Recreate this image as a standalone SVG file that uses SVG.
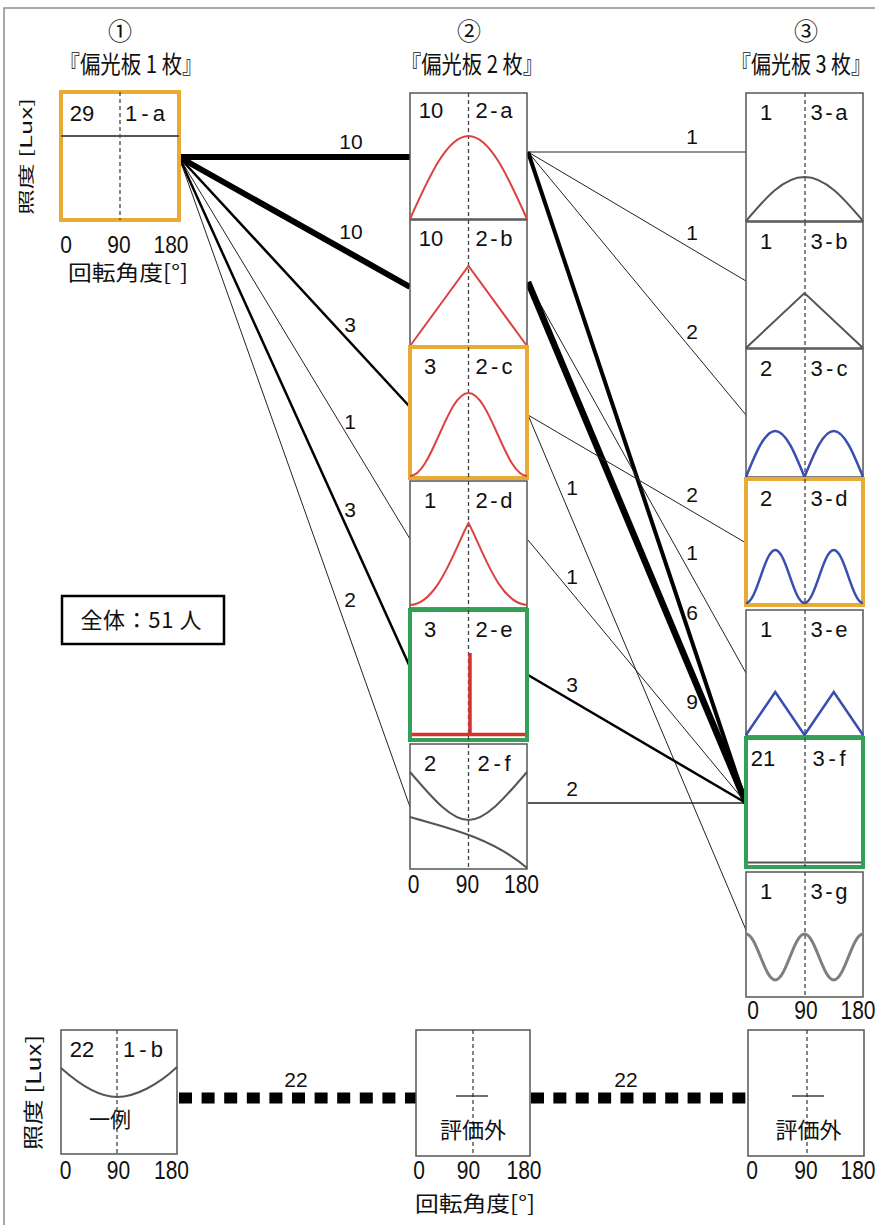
<svg xmlns="http://www.w3.org/2000/svg" width="875" height="1225" viewBox="0 0 875 1225">
<style>
  .frame { fill: none; stroke: #8a8a8a; stroke-width: 1.5; }
  .box { fill: #fff; stroke: #555; stroke-width: 1.5; }
  .box-o { fill: #fff; stroke: #E8AB35; stroke-width: 4; }
  .box-g { fill: #fff; stroke: #33A058; stroke-width: 4; }
  .box-k { fill: #fff; stroke: #000; stroke-width: 2.5; }
  .mid { fill: none; stroke: #444; stroke-width: 1.3; stroke-dasharray: 4 3; }
  .cr { fill: none; stroke: #DB4340; stroke-width: 2; }
  .cr3 { fill: none; stroke: #D9302C; stroke-width: 3.5; }
  .cb { fill: none; stroke: #3A4DB0; stroke-width: 2.5; }
  .ck { fill: none; stroke: #555; stroke-width: 2; }
  .cg { fill: none; stroke: #7f7f7f; stroke-width: 3; }
  .tick { fill: none; stroke: #222; stroke-width: 1.3; }
  text { font-family: "Liberation Sans", "Noto Sans CJK JP", sans-serif; fill: #111; }
  .jp { font-family: "Noto Sans CJK JP", sans-serif; }
  .num { font-size: 22px; text-anchor: middle; }
  .ax { font-size: 21px; text-anchor: middle; }
  .lbl { font-size: 21px; text-anchor: middle; }
  .ttl { font-size: 21px; text-anchor: middle; }
  .circ { font-size: 24px; text-anchor: middle; }
  .c1 { stroke: #222; stroke-width: 1; fill: none; }
  .c2 { stroke: #222; stroke-width: 1.3; fill: none; }
  .c3 { stroke: #000; stroke-width: 2.5; fill: none; }
  .c6 { stroke: #000; stroke-width: 4; fill: none; }
  .c9 { stroke: #000; stroke-width: 6.5; fill: none; }
  .c10 { stroke: #000; stroke-width: 6; fill: none; }
  .dots { stroke: #000; stroke-width: 11; fill: none; }
</style>

<!-- outer frame (right and bottom edges run past the canvas) -->
<rect class="frame" x="4" y="8" width="900" height="1240"/>

<!-- column headings -->
<g id="headings">
  <text class="jp circ" x="120" y="40">①</text>
  <text class="jp ttl" textLength="143" lengthAdjust="spacingAndGlyphs" transform="translate(131 73) scale(1 1.15)">『偏光板 1 枚』</text>
  <text class="jp circ" x="469" y="40">②</text>
  <text class="jp ttl" textLength="142" lengthAdjust="spacingAndGlyphs" transform="translate(472 73) scale(1 1.15)">『偏光板 2 枚』</text>
  <text class="jp circ" x="806" y="40">③</text>
  <text class="jp ttl" textLength="140" lengthAdjust="spacingAndGlyphs" transform="translate(801 73) scale(1 1.15)">『偏光板 3 枚』</text>
</g>

<!-- axis captions -->
<g id="axes">
  <text class="jp" font-size="16" text-anchor="middle" textLength="117" lengthAdjust="spacingAndGlyphs" transform="translate(31.5 156.5) rotate(-90)">照度 [Lux]</text>
  <text class="ax" transform="translate(0 253) scale(1 1.15)"><tspan x="66">0</tspan><tspan x="119">90</tspan><tspan x="171">180</tspan></text>
  <text class="jp" font-size="21" text-anchor="middle" textLength="120" lengthAdjust="spacingAndGlyphs" x="128" y="280">回転角度[°]</text>
  <text class="ax" transform="translate(0 893) scale(1 1.2)"><tspan x="413.5">0</tspan><tspan x="467.5">90</tspan><tspan x="521.5">180</tspan></text>
  <text class="ax" transform="translate(0 1019) scale(1 1.2)"><tspan x="753">0</tspan><tspan x="806">90</tspan><tspan x="858">180</tspan></text>

  <text class="jp" font-size="20" text-anchor="middle" textLength="115" lengthAdjust="spacingAndGlyphs" transform="translate(41 1092.5) rotate(-90)">照度 [Lux]</text>
  <text class="ax" transform="translate(0 1179) scale(1 1.2)"><tspan x="65.5">0</tspan><tspan x="118.5">90</tspan><tspan x="171.5">180</tspan></text>
  <text class="ax" transform="translate(0 1179) scale(1 1.2)"><tspan x="419">0</tspan><tspan x="468.5">90</tspan><tspan x="524">180</tspan></text>
  <text class="ax" transform="translate(0 1179) scale(1 1.2)"><tspan x="752">0</tspan><tspan x="806">90</tspan><tspan x="858">180</tspan></text>
  <text class="jp" font-size="21" text-anchor="middle" textLength="120" lengthAdjust="spacingAndGlyphs" x="475" y="1211">回転角度[°]</text>
</g>

<!-- connectors with head counts -->
<g id="connectors">
  <path class="c10" d="M179,157 L410,157"/>
  <path class="c10" d="M179,157 L410,287"/>
  <path class="c3" d="M179,157 L410,407"/>
  <path class="c1" d="M179,157 L410,539"/>
  <path class="c3" d="M179,157 L410,667"/>
  <path class="c1" d="M179,157 L410,807"/>

  <path class="c1" d="M528,152 L746,152"/>
  <path class="c1" d="M528,152 L746,281"/>
  <path class="c1" d="M528,152 L746,415"/>
  <path class="c6" d="M528,152 L746,803"/>
  <path class="c1" d="M528,282 L746,673"/>
  <path class="c9" d="M528,282 L746,803"/>
  <path class="c1" d="M528,415 L746,543"/>
  <path class="c1" d="M528,415 L746,930"/>
  <path class="c1" d="M528,540 L746,803"/>
  <path class="c3" d="M528,675 L746,803"/>
  <path class="c2" d="M528,803 L746,803"/>

  <path class="dots" d="M179,1098 H416" stroke-dasharray="13 9.6"/>
  <path class="dots" d="M531,1098 H746" stroke-dasharray="13 9.37"/>

  <g class="lbl">
    <text x="351" y="149">10</text>
    <text x="351" y="239">10</text>
    <text x="350" y="332">3</text>
    <text x="350" y="429">1</text>
    <text x="350" y="517">3</text>
    <text x="350" y="607">2</text>

    <text x="692" y="144">1</text>
    <text x="692" y="240">1</text>
    <text x="692" y="339">2</text>
    <text x="692" y="502">2</text>
    <text x="692" y="560">1</text>
    <text x="692" y="620">6</text>
    <text x="692" y="709">9</text>
    <text x="572" y="495">1</text>
    <text x="572" y="584">1</text>
    <text x="572" y="692">3</text>
    <text x="572" y="796">2</text>

    <text x="296" y="1087">22</text>
    <text x="626" y="1087">22</text>
  </g>
</g>

<!-- total count -->
<g id="total">
  <rect class="box-k" x="62" y="596" width="162" height="48"/>
  <text class="jp" font-size="22" text-anchor="middle" textLength="121" lengthAdjust="spacing" x="141" y="628">全体：51 人</text>
</g>

<!-- one polarizer -->
<g id="n1a">
  <rect class="box-o" x="61" y="92" width="118" height="128"/>
  <line class="mid" x1="120" y1="92" x2="120" y2="220"/>
  <path class="ck" d="M61,136 H179"/>
  <text class="num" x="82" y="121">29</text>
  <text class="num" x="145" y="121" textLength="40" lengthAdjust="spacing">1-a</text>
</g>

<!-- two polarizers -->
<g id="n2a">
  <rect class="box" x="410" y="93" width="117" height="126"/>
  <line class="mid" x1="468.5" y1="93" x2="468.5" y2="219"/>
  <path class="cr" d="M410,219 C429.1,176.5 447.3,136 468.5,136 C489.7,136 507.9,176.5 527,219"/>
  <text class="num" x="431" y="118">10</text>
  <text class="num" x="494" y="118" textLength="37" lengthAdjust="spacing">2-a</text>
</g>
<g id="n2b">
  <rect class="box" x="410" y="220" width="117" height="126"/>
  <line class="mid" x1="468.5" y1="220" x2="468.5" y2="346"/>
  <path class="cr" d="M410,346 L468.5,266 L527,346"/>
  <text class="num" x="431" y="246">10</text>
  <text class="num" x="494" y="246" textLength="37" lengthAdjust="spacing">2-b</text>
</g>
<g id="n2d">
  <rect class="box" x="410" y="481" width="117" height="127"/>
  <line class="mid" x1="468.5" y1="481" x2="468.5" y2="608"/>
  <path class="cr" d="M410,605 C438,604 455,548 468.5,523 C482,548 499,604 527,605"/>
  <text class="num" x="430" y="508">1</text>
  <text class="num" x="494" y="508" textLength="37" lengthAdjust="spacing">2-d</text>
</g>
<g id="n2f">
  <rect class="box" x="410" y="744" width="117" height="125"/>
  <line class="mid" x1="468.5" y1="744" x2="468.5" y2="869"/>
  <path class="ck" d="M410,772 C430,795 450,820 468.5,820 C487,820 507,795 527,772"/>
  <path class="ck" d="M410,817 C440,826 490,836 527,868"/>
  <text class="num" x="430" y="771">2</text>
  <text class="num" x="494" y="771" textLength="33" lengthAdjust="spacing">2-f</text>
</g>
<g id="n2c">
  <rect class="box-o" x="410" y="347" width="117" height="131"/>
  <line class="mid" x1="468.5" y1="347" x2="468.5" y2="478"/>
  <path class="cr" d="M410,476 C431.6,476 446.9,393 468.5,393 C490.1,393 505.4,476 527,476"/>
  <text class="num" x="430" y="374">3</text>
  <text class="num" x="494" y="374" textLength="37" lengthAdjust="spacing">2-c</text>
</g>
<g id="n2e">
  <rect class="box-g" x="410" y="610" width="117" height="130"/>
  <line class="mid" x1="468.5" y1="610" x2="468.5" y2="740"/>
  <path class="cr3" d="M412,734.5 H525 M470,653 V734"/>
  <text class="num" x="430" y="637">3</text>
  <text class="num" x="494" y="637" textLength="37" lengthAdjust="spacing">2-e</text>
</g>

<!-- three polarizers -->
<g id="n3a">
  <rect class="box" x="746" y="93" width="117" height="128"/>
  <line class="mid" x1="805" y1="93" x2="805" y2="221"/>
  <path class="ck" d="M746,221 C765.1,198.5 783.3,177 804.5,177 C825.7,177 843.9,198.5 863,221"/>
  <text class="num" x="766" y="120">1</text>
  <text class="num" x="829" y="120" textLength="37" lengthAdjust="spacing">3-a</text>
</g>
<g id="n3b">
  <rect class="box" x="746" y="222" width="117" height="126"/>
  <line class="mid" x1="805" y1="222" x2="805" y2="348"/>
  <path class="ck" d="M746,348 L804.5,293 L863,348"/>
  <text class="num" x="766" y="249">1</text>
  <text class="num" x="829" y="249" textLength="37" lengthAdjust="spacing">3-b</text>
</g>
<g id="n3c">
  <rect class="box" x="746" y="349" width="117" height="128"/>
  <line class="mid" x1="805" y1="349" x2="805" y2="477"/>
  <path class="cb" d="M746,477 C755.5,453.4 764.7,431 775.25,431 C785.8,431 795,453.4 804.5,477 C814,453.4 823.2,431 833.75,431 C844.3,431 853.5,453.4 863,477"/>
  <text class="num" x="766" y="376">2</text>
  <text class="num" x="829" y="376" textLength="37" lengthAdjust="spacing">3-c</text>
</g>
<g id="n3e">
  <rect class="box" x="746" y="610" width="117" height="126"/>
  <line class="mid" x1="805" y1="610" x2="805" y2="736"/>
  <path class="cb" d="M746,735 L775.25,692 L804.5,735 L833.75,692 L863,735"/>
  <text class="num" x="766" y="637">1</text>
  <text class="num" x="829" y="637" textLength="37" lengthAdjust="spacing">3-e</text>
</g>
<g id="n3g">
  <rect class="box" x="746" y="872" width="117" height="125"/>
  <line class="mid" x1="805" y1="872" x2="805" y2="997"/>
  <path class="cg" d="M746,934 C756.8,934 764.4,980 775.25,980 C786.1,980 793.7,934 804.5,934 C815.3,934 822.9,980 833.75,980 C844.6,980 852.2,934 863,934"/>
  <text class="num" x="766" y="899">1</text>
  <text class="num" x="829" y="899" textLength="37" lengthAdjust="spacing">3-g</text>
</g>
<g id="n3d">
  <rect class="box-o" x="746" y="479" width="117" height="126"/>
  <line class="mid" x1="805" y1="479" x2="805" y2="605"/>
  <path class="cb" d="M746,603 C756.8,603 764.4,550 775.25,550 C786.1,550 793.7,603 804.5,603 C815.3,603 822.9,550 833.75,550 C844.6,550 852.2,603 863,603"/>
  <text class="num" x="766" y="506">2</text>
  <text class="num" x="829" y="506" textLength="37" lengthAdjust="spacing">3-d</text>
</g>
<g id="n3f">
  <rect class="box-g" x="746" y="738" width="117" height="129"/>
  <line class="mid" x1="805" y1="738" x2="805" y2="867"/>
  <path class="ck" d="M748,862.5 H861"/>
  <text class="num" x="763" y="766">21</text>
  <text class="num" x="829" y="766" textLength="33" lengthAdjust="spacing">3-f</text>
</g>

<!-- bottom row: other case -->
<g id="n1b">
  <rect class="box" x="61" y="1030" width="116" height="124"/>
  <line class="mid" x1="117" y1="1030" x2="117" y2="1154"/>
  <path class="ck" d="M61,1068 C80,1085 100,1097 117,1097 C135,1097 158,1085 177,1067"/>
  <text class="num" x="82" y="1057">22</text>
  <text class="num" x="143" y="1057" textLength="40" lengthAdjust="spacing">1-b</text>
  <text class="jp" font-size="21" text-anchor="middle" x="110" y="1127">一例</text>
</g>
<g id="n2x">
  <rect class="box" x="416" y="1030" width="114" height="126"/>
  <line class="mid" x1="473" y1="1030" x2="473" y2="1156"/>
  <path class="tick" d="M456,1096 H488"/>
  <text class="jp" font-size="22" text-anchor="middle" x="473" y="1138">評価外</text>
</g>
<g id="n3x">
  <rect class="box" x="748" y="1030" width="116" height="126"/>
  <line class="mid" x1="807" y1="1030" x2="807" y2="1156"/>
  <path class="tick" d="M792,1096 H824"/>
  <text class="jp" font-size="22" text-anchor="middle" x="808.5" y="1138">評価外</text>
</g>
</svg>
